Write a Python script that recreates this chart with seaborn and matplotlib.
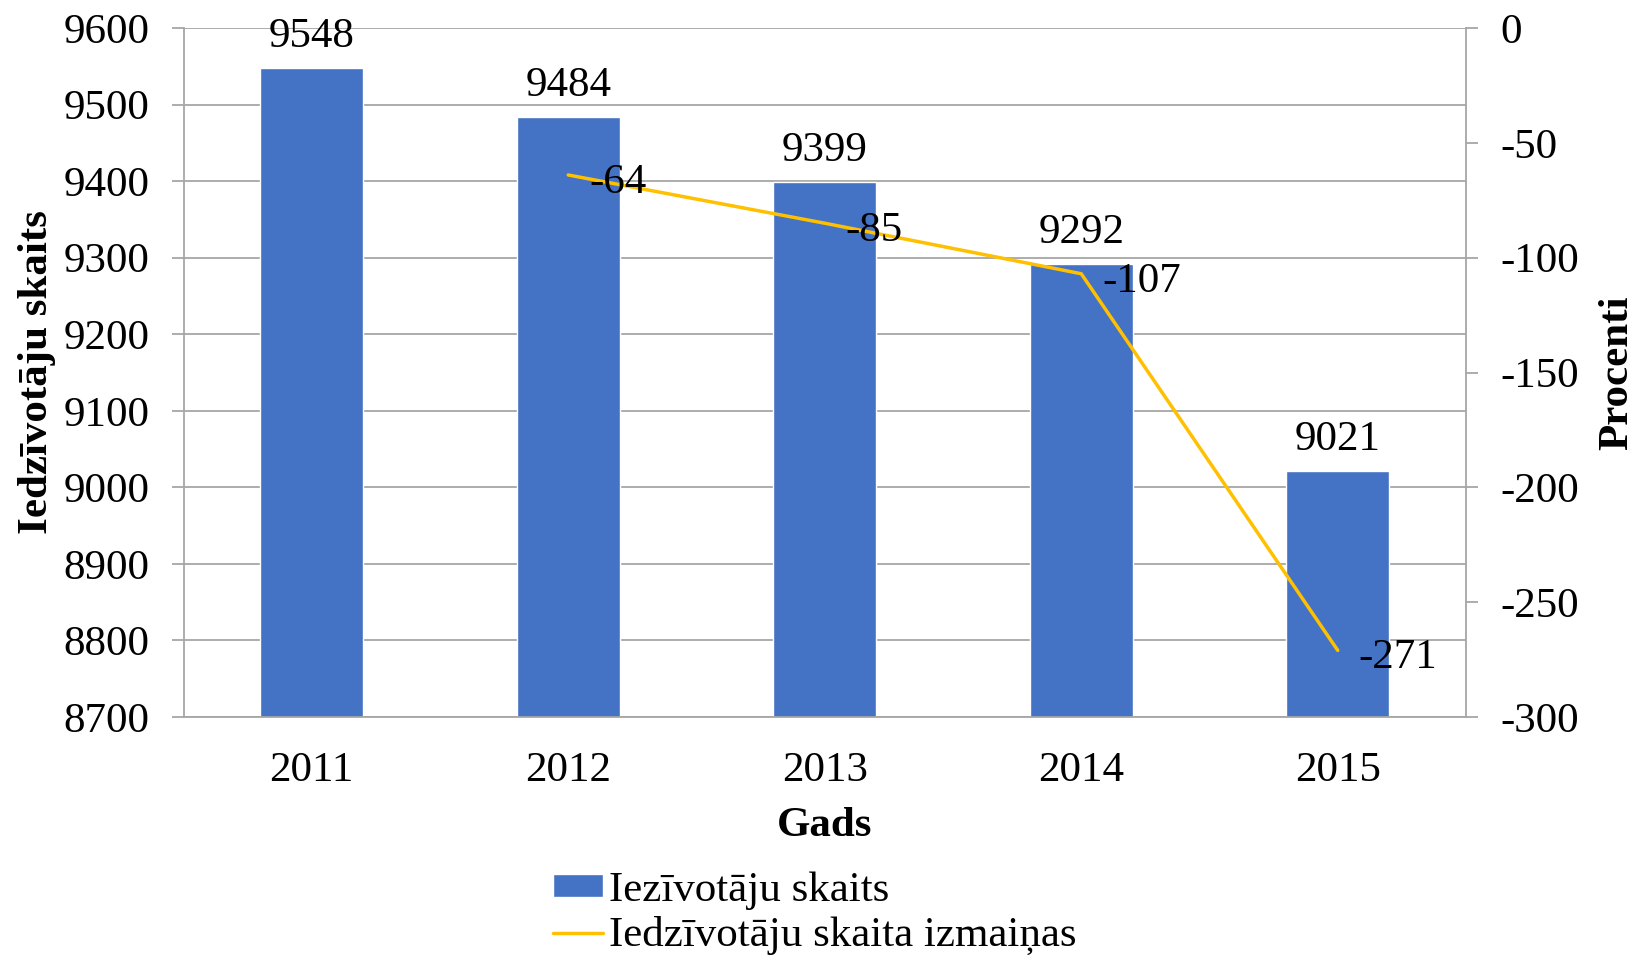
import matplotlib
matplotlib.use("Agg")
import matplotlib.pyplot as plt
import seaborn as sns

# data
years = ["2011", "2012", "2013", "2014", "2015"]
population = [9548, 9484, 9399, 9292, 9021]
change_years = ["2012", "2013", "2014", "2015"]
change = [-64, -85, -107, -271]

bar_color = "#4472C4"
line_color = "#FFC000"
grid_color = "#A6A6A6"
fs = 31

sns.set_style("white")
plt.rcParams['font.family'] = ['Liberation Serif', 'DejaVu Serif']
plt.rcParams['font.size'] = fs
plt.rcParams['text.color'] = 'black'
plt.rcParams['xtick.color'] = 'black'
plt.rcParams['ytick.color'] = 'black'
plt.rcParams['axes.labelcolor'] = 'black'
plt.rcParams['axes.unicode_minus'] = False

fig = plt.figure(figsize=(16.35, 9.56), dpi=100)
ax = fig.add_axes([183.5 / 1635, 1 - 717 / 956, (1466 - 183.5) / 1635, (717 - 28) / 956])

# bars for population
sns.barplot(x=years, y=population, color=bar_color, saturation=1, width=0.4,
            ax=ax, label="Iezīvotāju skaits", zorder=2)
ax.set_ylim(8700, 9600)
ax.set_xlim(-0.5, 4.5)
ax.set_yticks(range(8700, 9601, 100))
ax.yaxis.grid(True, color=grid_color, linewidth=1.3)
ax.set_axisbelow(True)

for i, v in enumerate(population):
    ax.annotate(str(v), (i, v), xytext=(0, 15), textcoords="offset points",
                ha="center", va="baseline", fontsize=fs)

# line for the change, on the right axis
ax2 = ax.twinx()
pos = [years.index(y) for y in change_years]
sns.lineplot(x=pos, y=change, color=line_color, linewidth=2.5, ax=ax2,
             label="Iedzīvotāju skaita izmaiņas", zorder=3)
ax2.set_ylim(-300, 0)
ax2.set_yticks(range(-300, 1, 50))
for p, v in zip(pos, change):
    ax2.annotate(str(v), (p, v), xytext=(15, -13), textcoords="offset points",
                 ha="left", va="baseline", fontsize=fs)

# axis styling
for a in (ax, ax2):
    a.spines["top"].set_visible(False)
    for side in ("left", "right", "bottom"):
        a.spines[side].set_color(grid_color)
        a.spines[side].set_linewidth(1.3)
ax.spines["right"].set_visible(False)
ax2.spines["left"].set_visible(False)
ax2.spines["bottom"].set_visible(False)

ax.tick_params(axis="y", direction="out", length=8.6, width=1.3, color=grid_color,
               pad=16, labelsize=fs)
ax2.tick_params(axis="y", direction="out", length=8.6, width=1.3, color=grid_color,
                pad=16, labelsize=fs)
ax.tick_params(axis="x", which="major", length=0, pad=25, labelsize=fs)
ax.set_xticks([-0.5, 0.5, 1.5, 2.5, 3.5, 4.5], minor=True)
ax.tick_params(axis="x", which="minor", direction="out", length=8.6, width=1.3,
               color=grid_color)

ax.set_xlabel("Gads", fontsize=fs, fontweight="bold", va="center")
ax.xaxis.set_label_coords(0.5, -0.158)
ax.set_ylabel("Iedzīvotāju skaits", fontsize=fs, fontweight="bold", va="center")
ax.yaxis.set_label_coords(-0.114, 0.5)
ax2.set_ylabel("Procenti", fontsize=fs, fontweight="bold", va="center")
ax2.yaxis.set_label_coords(1.118, 0.5)

# legend below the chart
if ax.get_legend():
    ax.get_legend().remove()
if ax2.get_legend():
    ax2.get_legend().remove()
handles = [ax.containers[0].patches[0], ax2.lines[0]]
labels = ["Iezīvotāju skaits", "Iedzīvotāju skaita izmaiņas"]
fig.legend(handles, labels, loc="upper left", bbox_to_anchor=(553 / 1635, 1 - 871 / 956),
           frameon=False, fontsize=fs, handlelength=1.15, handleheight=0.45,
           handletextpad=0.15, labelspacing=0.15, borderpad=0, borderaxespad=0)

fig.savefig("out.png", dpi=100)
